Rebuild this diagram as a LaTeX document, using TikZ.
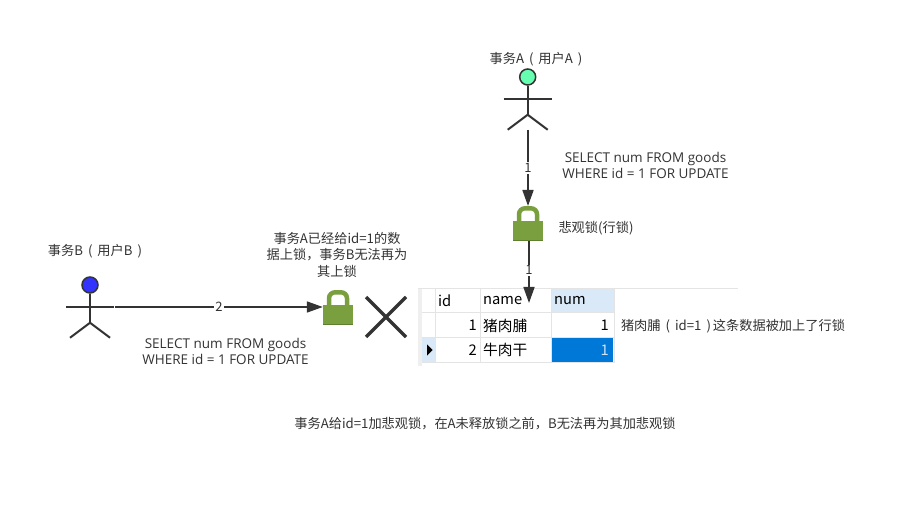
\documentclass[tikz,border=0pt]{standalone}
\usepackage{fontspec}
\setmainfont{Noto Sans CJK SC}
\newfontfamily\sqlfont{Open Sans}
\usetikzlibrary{arrows.meta,calc}
\definecolor{ink}{HTML}{333333}
\definecolor{lockgreen}{HTML}{7A9F3E}
\definecolor{lockdark}{HTML}{5F7F30}
\definecolor{gridc}{HTML}{E4E4E4}
\definecolor{headc}{HTML}{D9E9F7}
\definecolor{selc}{HTML}{0078D7}
\definecolor{ballA}{HTML}{66FFB2}
\definecolor{ballB}{HTML}{3333FF}
\newcommand{\parengap}{\hspace{5pt}}
\tikzset{
  x=1pt,y=-1pt,
  note/.style={font=\fontsize{13.2}{16.5}\selectfont,text=ink,inner sep=0pt,align=center},
  sqlnote/.style={font=\sqlfont\fontsize{13.5}{16}\selectfont,text=ink,inner sep=0pt,align=center},
  cell/.style={font=\fontsize{14.7}{16}\selectfont,text=black,inner sep=0pt},
  stick/.style={draw=ink,line width=2pt},
  conn/.style={draw=ink,line width=1.7pt,-{Triangle[length=16pt,width=11pt]}},
  lab/.style={font=\fontsize{13}{14}\selectfont,text=ink,fill=white,inner sep=1pt},
  headball/.style={circle,draw=ink,line width=1.5pt,minimum size=16pt,inner sep=0pt},
  lockbody/.style={fill=lockgreen,draw=none},
  gridl/.style={draw=gridc,line width=1pt}
}
\newcommand{\stickman}[3]{% name, x, y of head centre
  \node[headball,fill=ball#1] (head#1) at (#2,#3) {};
  \draw[stick] (head#1.south) -- ++(0,29) coordinate (hip#1);
  \draw[stick] ($(head#1.center)+(-24,22)$) coordinate (armL#1) -- ++(48,0) coordinate (armR#1);
  \draw[stick] (hip#1) -- ++(-20,15) coordinate (legL#1);
  \draw[stick] (hip#1) -- ++(20,15) coordinate (legR#1);
}
\newcommand{\padlock}[3]{% name, centre x, body top y
  \draw[draw=lockgreen,line width=4.5pt,rounded corners=6pt] (#2-9,#3+1) -- (#2-9,#3-12.7) -- (#2+9,#3-12.7) -- (#2+9,#3+1);
  \node[lockbody,minimum width=30pt,minimum height=19.5pt,inner sep=0pt] (#1) at (#2,#3+9.8) {};
  \draw[draw=lockdark,line width=1pt] (#2-15,#3+19.3) -- (#2+15,#3+19.3);
}
\begin{document}
\begin{tikzpicture}
\useasboundingbox (0,0) rectangle (907,518);
\fill[white] (0,0) rectangle (907,518);

% table
\fill[headc] (552,289) rectangle (614,312);
\fill[headc] (422,338) rectangle (435,362);
\fill[selc] (552,338) rectangle (613,362);
\fill[gridc!60] (418,288) rectangle (422,366);
\draw[gridl] (418,288.5) -- (738,288.5);
\foreach \yy in {312.5,337.5,362.5} \draw[gridl] (422,\yy) -- (614.5,\yy);
\foreach \xx in {435.5,480.5,551.5,614.5} \draw[gridl] (\xx,289) -- (\xx,362);
\fill[black] (427,344.5) -- (432.5,350) -- (427,355.5) -- cycle;
\node[cell,anchor=west] (hid) at (438,300.5) {id};
\node[cell,anchor=west] (hname) at (483,300.5) {name};
\node[cell,anchor=west] (hnum) at (554,300.5) {num};
\node[cell,anchor=east] (r1id) at (477,325.5) {1};
\node[cell,anchor=west] (r1name) at (483,325.5) {猪肉脯};
\node[cell,anchor=east] (r1num) at (609,325.5) {1};
\node[cell,anchor=east] (r2id) at (477,350) {2};
\node[cell,anchor=west] (r2name) at (483,350) {牛肉干};
\node[cell,anchor=east,text=white!80!selc] (r2num) at (609,350) {1};
\coordinate (tabletop) at (529,303);

% actors
\stickman{A}{527.7}{77}
\stickman{B}{90}{285}

% locks
\padlock{lockA}{528}{221}
\padlock{lockB}{338}{305}

% connectors
\coordinate (Astart) at (528,130);
\coordinate (Atip) at (528,206);
\coordinate (Bstart) at (115,307);
\coordinate (lockAout) at (529,241);
\draw[conn] (Astart) -- (Atip) node[lab,pos=0.5] (l1) {1};
\draw[conn] (lockAout) -- (tabletop) node[lab,pos=0.47] (l2) {1};
\draw[conn] (Bstart) -- (lockB.west |- Bstart) node[lab,pos=0.5] (l3) {2};

% cross
\draw[ink,line width=3.2pt] (366,297) -- (406,337);
\draw[ink,line width=3.2pt] (406,297) -- (366,337);

% texts
\node[note] (ta) at (536,59.5) {事务A\parengap{}(\parengap{}用户A\parengap{})};
\node[note] (tb) at (95,251.5) {事务B\parengap{}(\parengap{}用户B\parengap{})};
\node[sqlnote] (sqla) at (645.5,165.5) {SELECT num FROM goods\\WHERE id = 1 FOR UPDATE};
\node[sqlnote] (sqlb) at (225.5,351.5) {SELECT num FROM goods\\WHERE id = 1 FOR UPDATE};
\node[note] (pess) at (596,228.5) {悲观锁(行锁)};
\node[note] (warn) at (337,254.5) {事务A已经给id=1的数\\据上锁，事务B无法再为\\其上锁};
\node[note] (rowl) at (733,326.5) {猪肉脯\parengap{}(\parengap{}id=1\parengap{})\hspace{2pt}这条数据被加上了行锁};
\node[note] (sum) at (485,424) {事务A给id=1加悲观锁，在A未释放锁之前，B无法再为其加悲观锁};
\end{tikzpicture}
\end{document}
